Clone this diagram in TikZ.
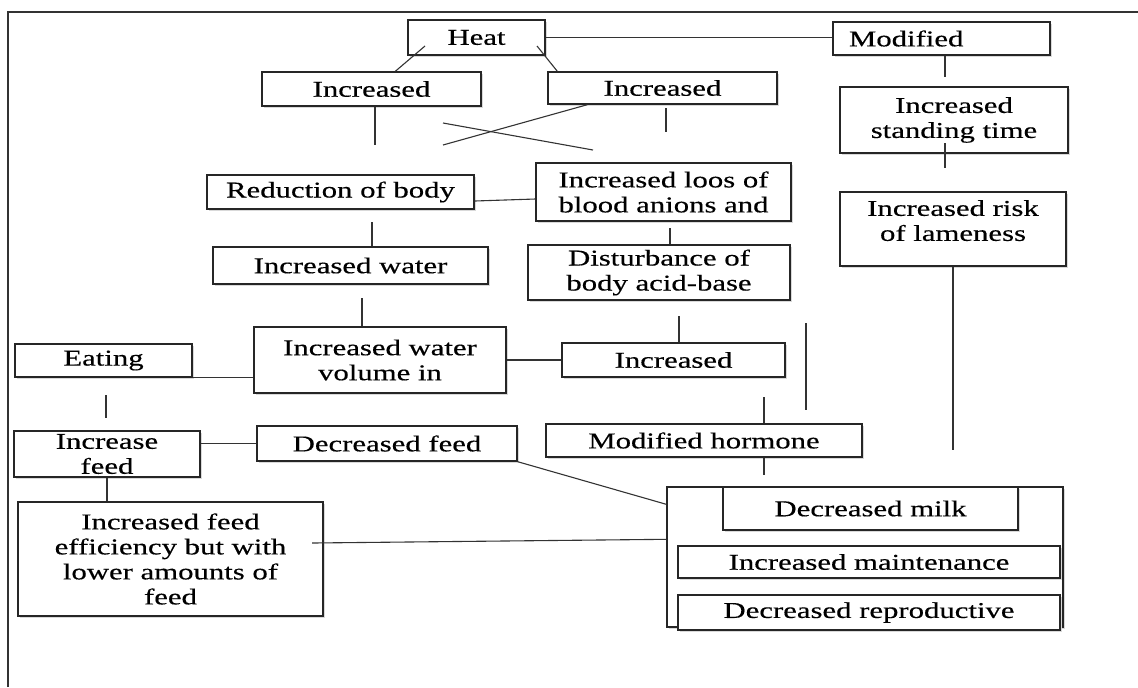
\documentclass[tikz,border=0pt]{standalone}
\usepackage{fontspec}
\newfontfamily\boxfont{Liberation Serif}[FakeStretch=1.36,FakeBold=0.4]
\usetikzlibrary{positioning,calc,shadows}

\begin{document}
\begin{tikzpicture}[
  x=0.5pt,y=-0.5pt,
  box/.style={draw=black!85,line width=0.7pt,fill=white,align=center,inner sep=0pt,
    font=\boxfont\fontsize{11.3pt}{12.5pt}\selectfont,
    drop shadow={shadow xshift=1.2pt,shadow yshift=-1.2pt,fill=black!15,opacity=1}},
  inner/.style={box,drop shadow={shadow xshift=0pt,shadow yshift=0pt,opacity=0}},
  link/.style={draw=black!80,line width=0.55pt}
]
\useasboundingbox (0,0) rectangle (1138,687);
\draw[link,line width=0.8pt] (8,687) -- (8,12) -- (1138,12);

% top row
\node[box,minimum width=68.5pt,minimum height=17.5pt] (heat) at (476.5,37.5) {Heat};
\node[box,text width=92.5pt,inner xsep=8pt,align=left,minimum height=16.5pt] (modified) at (941.5,38.5) {Modified};
\node[box,minimum width=109.5pt,minimum height=17pt] (incL) at (371.5,89) {Increased};
\node[box,minimum width=114.5pt,minimum height=16pt] (incR) at (662.5,88) {Increased};
\node[box,minimum width=114pt,minimum height=33pt] (standing) at (954,120) {Increased\\standing time};

% middle
\node[box,minimum width=133.5pt,minimum height=17pt] (reduction) at (340.5,192) {Reduction of body};
\node[box,minimum width=127.5pt,minimum height=29pt] (anions) at (663.5,192) {Increased loos of\\blood anions and};
\node[box,minimum width=113pt,minimum height=37pt,text depth=8.5pt] (lameness) at (953,229) {Increased risk\\of lameness};
\node[box,minimum width=137.5pt,minimum height=18.5pt] (water) at (350.5,265.5) {Increased water};
\node[box,minimum width=131pt,minimum height=27.5pt] (acidbase) at (659,272.5) {Disturbance of\\body acid-base};
\node[box,minimum width=88.5pt,minimum height=16.5pt] (eating) at (103.5,360.5) {Eating};
\node[box,minimum width=126pt,minimum height=33pt] (volume) at (380,360) {Increased water\\volume in};
\node[box,minimum width=111.5pt,minimum height=17pt] (incM) at (673.5,360) {Increased};

% bottom
\node[box,minimum width=93pt,minimum height=23pt] (incfeed) at (107,454) {Increase\\feed};
\node[box,minimum width=130pt,minimum height=17.5pt] (decfeed) at (387,443.5) {Decreased feed};
\node[box,minimum width=158pt,minimum height=16.5pt] (hormone) at (704,440.5) {Modified hormone};
\node[box,minimum width=152.5pt,minimum height=57pt] (efficiency) at (170.5,559) {Increased feed\\efficiency but with\\lower amounts of\\feed};
\node[box,minimum width=198pt,minimum height=70pt] (effects) at (865,557) {};
\node[inner,minimum width=147.5pt,minimum height=21.5pt] (milk) at (870.5,508.5) {Decreased milk};
\node[inner,minimum width=191pt,minimum height=16pt] (maintenance) at (869,562) {Increased maintenance};
\node[inner,minimum width=191pt,minimum height=17.5pt] (reproductive) at (869,612.5) {Decreased reproductive};

% free ends
\coordinate (heatL) at (425,46);
\coordinate (heatR) at (537,46);
\coordinate (incLend) at (375,145);
\coordinate (incRtop) at (666,108);
\coordinate (incRend) at (666,132);
\coordinate (crossA) at (443,123);
\coordinate (crossAend) at (593,150);
\coordinate (crossB) at (443,145);
\coordinate (modEnd) at (945,77);
\coordinate (standTop) at (945,143);
\coordinate (standEnd) at (945,168);
\coordinate (redTop) at (372,222);
\coordinate (anionTop) at (670,228);
\coordinate (waterTop) at (362,298);
\coordinate (acidTop) at (679,316);
\coordinate (sideTop) at (806,323);
\coordinate (sideEnd) at (806,410);
\coordinate (lameEnd) at (953,450);
\coordinate (eatTop) at (106,395);
\coordinate (eatEnd) at (106,418);
\coordinate (hormTop) at (764,397);
\coordinate (hormEnd) at (764,475);
\coordinate (effStart) at (312,543);

% connectors
\draw[link] (heat.east) -- (heat.east -| modified.west);
\draw[link] (heatL) -- ($(incL.north west)+(134,0)$);
\draw[link] (heatR) -- ($(incR.north west)+(10,0)$);
\draw[link] (incLend |- incL.south) -- (incLend);
\draw[link] (incRtop) -- (incRend);
\draw[link] (crossA) -- (crossAend);
\draw[link] (crossB) -- ($(incR.south west)+(40,0)$);
\draw[link] (modEnd |- modified.south) -- (modEnd);
\draw[link] (standTop) -- (standEnd);
\draw[link] ($(reduction.east)+(0,9)$) -- ($(anions.west)+(0,7)$);
\draw[link] (redTop) -- (redTop |- water.north);
\draw[link] (anionTop) -- (anionTop |- acidbase.north);
\draw[link] (waterTop) -- (waterTop |- volume.north);
\draw[link] (acidTop) -- (acidTop |- incM.north);
\draw[link] (eating.south east) -- (eating.south east -| volume.west);
\draw[link] (volume.east |- incM.west) -- (incM.west);
\draw[link] (sideTop) -- (sideEnd);
\draw[link] (lameEnd |- lameness.south) -- (lameEnd);
\draw[link] (eatTop) -- (eatEnd);
\draw[link] (decfeed.west -| incfeed.east) -- (decfeed.west);
\draw[link] (incfeed.south) -- (incfeed.south |- efficiency.north);
\draw[link] (hormTop) -- (hormTop |- hormone.north);
\draw[link] (hormEnd |- hormone.south) -- (hormEnd);
\draw[link] (decfeed.south east) -- ($(effects.north west)+(0,18)$);
\draw[link] (effStart) -- ($(effects.north west)+(0,53)$);
\end{tikzpicture}
\end{document}
